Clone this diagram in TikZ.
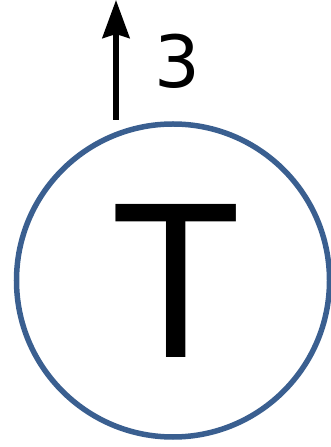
\documentclass[tikz,border=0pt]{standalone}
\usepackage{fontspec}
\setmainfont{DejaVu Sans}
\usetikzlibrary{arrows.meta}
\tikzset{
  ring/.style={circle, draw=ringblue, line width=5.5pt, minimum size=313pt, inner sep=0pt},
  bigletter/.style={font=\fontsize{210}{210}\selectfont, inner sep=0pt, xscale=0.93},
  lbl/.style={font=\fontsize{72}{72}\selectfont, inner sep=0pt},
  uparrow/.style={line width=5.5pt, -{Stealth[length=38pt, width=27pt, inset=4pt]}}
}
\definecolor{ringblue}{HTML}{3A5F90}
\begin{document}
\begin{tikzpicture}[x=1pt,y=1pt]
\useasboundingbox (0,0) rectangle (331,447);
\node[ring] (c) at (173,166.5) {};
\node[bigletter, anchor=base] (t) at (176,89) {T};
\coordinate (a0) at (116,327);
\coordinate (a1) at (116,447);
\draw[uparrow] (a0) -- (a1);
\node[lbl, anchor=base] (n) at (177,359) {3};
\end{tikzpicture}
\end{document}
